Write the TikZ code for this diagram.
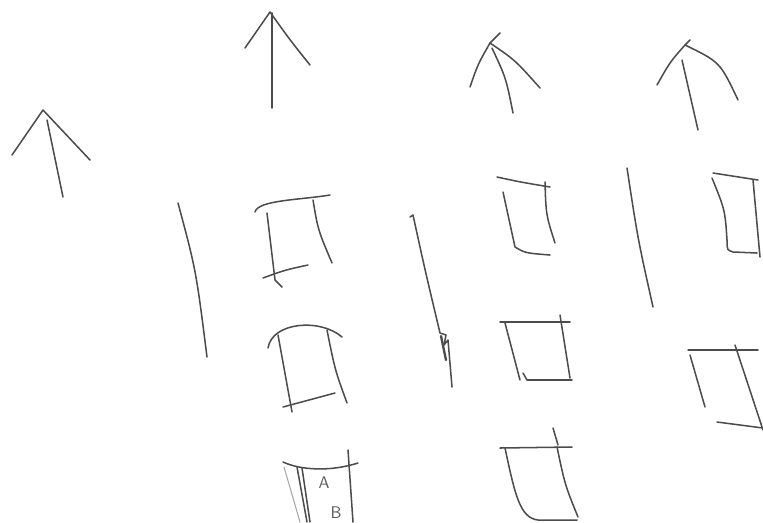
\documentclass[tikz,border=0pt]{standalone}
\usetikzlibrary{arrows.meta}
\begin{document}
\begin{tikzpicture}[x=0.03cm, y=-0.03cm,
    ink/.style={draw=black!70, line width=1.3pt, line cap=round, line join=round},
    faint/.style={draw=black!35, line width=0.9pt, line cap=round},
    letter/.style={text=black!65, font=\sffamily\Large, inner sep=0pt}]
  \useasboundingbox (0,0) rectangle (763,522);

  % arrows on top
  \draw[ink] (12,155) -- (43,110) -- (90,160);
  \draw[ink] (47,120) -- (63,197);
  \draw[ink] (245,48) .. controls (258,30) .. (270,12) .. controls (290,40) .. (310,65);
  \draw[ink] (272,13) -- (272,108);
  \draw[ink] (470,87) .. controls (478,64) .. (490,43) -- (500,33);
  \draw[ink] (490,43) .. controls (515,60) .. (540,88);
  \draw[ink] (492,48) .. controls (506,78) .. (513,113);
  \draw[ink] (657,85) .. controls (670,62) .. (685,45) -- (690,40);
  \draw[ink] (685,45) .. controls (720,62) .. (738,100);
  \draw[ink] (682,60) .. controls (690,95) .. (698,130);

  % dividers
  \draw[ink] (178,203) .. controls (196,270) .. (207,357);
  \draw[ink] (410,217) -- (413,215) .. controls (425,270) .. (440,333)
             -- (446,335) -- (444,345) -- (448,340) -- (452,387);
  \draw[ink, line width=2pt] (441,336) -- (446,360);
  \draw[ink] (627,168) .. controls (638,240) .. (653,307);

  % column 1
  \draw[ink] (255,212) .. controls (258,200) and (300,200) .. (330,195);
  \draw[ink] (267,213) -- (275,280) -- (282,287);
  \draw[ink] (313,200) .. controls (318,230) .. (332,263);
  \draw[ink] (263,278) .. controls (285,270) .. (308,265);

  \draw[ink] (268,348) .. controls (272,322) and (320,318) .. (342,337);
  \draw[ink] (278,335) -- (292,412);
  \draw[ink] (327,330) .. controls (335,370) .. (347,403);
  \draw[ink] (283,407) -- (335,393);

  \draw[ink] (283,462) .. controls (300,470) and (330,472) .. (358,463);
  \draw[ink] (348,450) -- (353,522);
  \draw[ink] (297,467) -- (307,522);
  \draw[ink] (302,468) -- (310,522);
  \draw[faint] (284,467) -- (300,522);
  \node[letter] (lblA) at (324,483) {A};
  \node[letter] (lblB) at (336,513) {B};

  % column 2
  \draw[ink] (497,177) .. controls (520,182) .. (550,187);
  \draw[ink] (503,192) -- (515,247) .. controls (525,253) .. (550,255);
  \draw[ink] (545,182) .. controls (546,215) .. (555,243);

  \draw[ink] (500,322) -- (570,322);
  \draw[ink] (505,323) -- (520,380);
  \draw[ink] (523,373) -- (527,380) -- (572,380);
  \draw[ink] (560,315) -- (570,378);

  \draw[ink] (500,448) -- (572,447);
  \draw[ink] (553,428) -- (558,445);
  \draw[ink] (505,448) .. controls (515,495) and (520,518) .. (538,520) -- (577,520);
  \draw[ink] (557,447) .. controls (565,485) .. (578,517);

  % column 3
  \draw[ink] (713,173) -- (758,180);
  \draw[ink] (712,178) .. controls (725,210) .. (727,240)
             .. controls (727,250) .. (733,252) -- (757,253);
  \draw[ink] (753,180) -- (760,257);

  \draw[ink] (688,350) -- (758,350);
  \draw[ink] (690,355) -- (705,407);
  \draw[ink] (735,345) -- (763,430);
  \draw[ink] (717,422) -- (763,428);
\end{tikzpicture}
\end{document}
